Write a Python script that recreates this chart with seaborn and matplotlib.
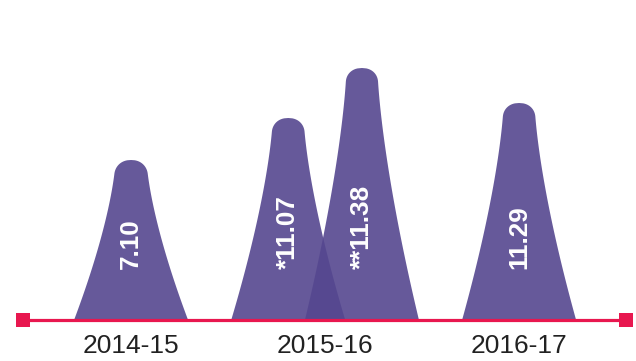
import numpy as np
import pandas as pd
import matplotlib
matplotlib.use("Agg")
import matplotlib.pyplot as plt
import seaborn as sns

# ---- data ----
categories = ["2014-15", "2015-16", "2016-17"]
peak_category = ["2014-15", "2015-16", "2015-16", "2016-17"]
peak_offset = [0.0, -0.19, 0.19, 0.0]          # position within category
peak_labels = ["7.10", "*11.07", "**11.38", "11.29"]
peak_heights = [160, 202, 252, 217]            # drawn height of each peak (chart units)

sns.set_theme(style="white")
plt.rcParams["font.family"] = ["Liberation Sans", "DejaVu Sans"]

W, H = 636, 361
fig = plt.figure(figsize=(W / 100, H / 100), dpi=100)
ax = fig.add_axes([23 / W, 41 / H, 603 / W, 320 / H])

fill_color = "#55478f"
line_color = "#e8174f"

xpos = {c: i for i, c in enumerate(categories)}
xmin, xmax = -0.557, 2.551
ymax = 320
px_per_x = 603 / (xmax - xmin)

cap_r = 15.5 / px_per_x
base_hw = 57 / px_per_x
cap_h = 14

df = pd.DataFrame({"cat": peak_category, "off": peak_offset,
                   "label": peak_labels, "height": peak_heights})

for _, row in df.iterrows():
    cx = xpos[row["cat"]] + row["off"]
    h = row["height"]
    d = np.linspace(0, h, 600)
    f = d / h
    hw_body = cap_r + (base_hw - cap_r) * f ** 1.45
    t = np.clip((cap_h - d) / cap_h, 0, 1)
    n = 2.2
    hw = hw_body * (1 - t ** n) ** (1 / n)
    y = h - d
    xs = np.concatenate([cx - hw, (cx + hw)[::-1]])
    ys = np.concatenate([y, y[::-1]])
    ax.fill(xs, ys, color=fill_color, alpha=0.9, lw=0, zorder=2)
    ax.text(cx, 51, row["label"], rotation=90, ha="center", va="bottom",
            color="white", fontsize=18.8, fontweight="bold", zorder=5)

# baseline with square ends
base = pd.DataFrame({"x": [xmin, xmax], "y": [0, 0]})
sns.lineplot(data=base, x="x", y="y", ax=ax, color=line_color, lw=2.3,
             zorder=6, clip_on=False)
sns.scatterplot(data=base, x="x", y="y", ax=ax, color=line_color, marker="s",
                s=110, edgecolor="none", zorder=7, clip_on=False)

ax.set_xlim(xmin, xmax)
ax.set_ylim(0, ymax)
ax.set_xticks(range(len(categories)))
ax.set_xticklabels(categories, fontsize=19, color="#222222")
ax.tick_params(axis="x", length=0, pad=10)
ax.set_yticks([])
ax.set_xlabel("")
ax.set_ylabel("")
for s in ax.spines.values():
    s.set_visible(False)

fig.savefig("out.png", dpi=100)
